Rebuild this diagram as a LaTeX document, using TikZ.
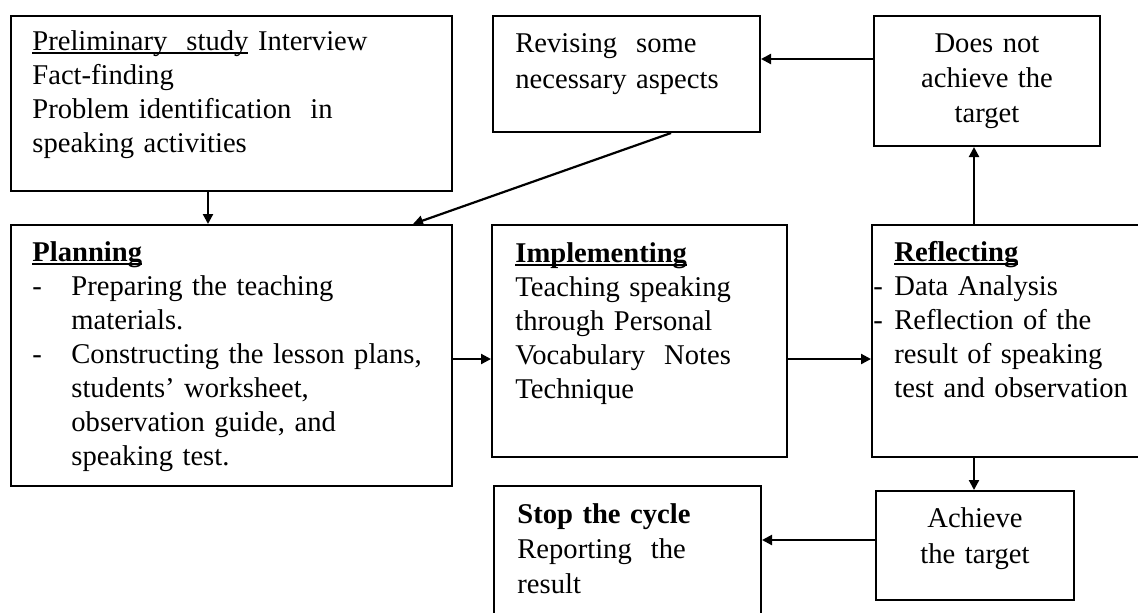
\documentclass[tikz,border=0pt]{standalone}
\usepackage{fontspec}
\setmainfont{Liberation Serif}
\usetikzlibrary{arrows.meta,fit}
\newcommand\myul[1]{\setbox0\hbox{#1}\rlap{\rule[-1.9pt]{\wd0}{0.8pt}}#1}
\begin{document}
\begin{tikzpicture}[x=0.5pt,y=-0.5pt,
  box/.style={draw,line width=1pt,inner sep=0pt},
  txt/.style={inner sep=0pt,anchor=base west,align=left},
  ctxt/.style={inner sep=0pt,anchor=base,align=center},
  arr/.style={line width=1.1pt,-{Triangle[length=5pt,width=5pt]}}]
\useasboundingbox (0,0) rectangle (1138,612);
\fill[white] (0,0) rectangle (1138,612);
\clip (0,0) rectangle (1138,612);
% alignment coordinates
\coordinate (c208) at (208,0);
\coordinate (c671) at (671,0);
\coordinate (c413) at (413,0);
\coordinate (c974) at (974,0);
\coordinate (c59) at (0,59);
\coordinate (c359) at (0,359);
\coordinate (c540) at (0,540);
% boxes
\node[box,fit={(11,16) (452,191)}] (pre) {};
\node[box,fit={(11,225) (452,486)}] (plan) {};
\node[box,fit={(493,16) (760,132)}] (rev) {};
\node[box,fit={(874,16) (1100,146)}] (dna) {};
\node[box,fit={(492,225) (787,457)}] (impl) {};
\node[box,fit={(872,225) (1150,457)}] (refl) {};
\node[box,fit={(876,491) (1074,600)}] (ach) {};
\node[box,fit={(494,486) (761,625)}] (stop) {};
% texts
\node[txt,text width=215pt,font=\fontsize{14.3}{17}\selectfont] (tpre) at (32,50)
  {\myul{Preliminary\ \ study} Interview\\Fact-finding\\Problem identification\ \ in\\speaking activities};
\node[txt,text width=215pt,font=\fontsize{14.3}{17}\selectfont] (tplan) at (32,261)
  {\myul{\textbf{Planning}}\\
   \makebox[19.5pt][l]{-}Preparing the teaching\\
   \hspace*{19.5pt}materials.\\
   \makebox[19.5pt][l]{-}Constructing the lesson plans,\\
   \hspace*{19.5pt}students’ worksheet,\\
   \hspace*{19.5pt}observation guide, and\\
   \hspace*{19.5pt}speaking test.};
\node[txt,text width=130pt,font=\fontsize{14.3}{18}\selectfont] (trev) at (515,52)
  {Revising\ \ some\\necessary aspects};
\node[ctxt,text width=110pt,font=\fontsize{14.3}{17.5}\selectfont] (tdna) at (987,52)
  {Does not\\achieve the\\target};
\node[txt,text width=135pt,font=\fontsize{14.3}{17}\selectfont] (timpl) at (515,262)
  {\myul{\textbf{Implementing}}\\Teaching speaking\\through Personal\\Vocabulary\ \ Notes\\Technique};
\node[txt,text width=135pt,font=\fontsize{14.3}{17}\selectfont] (trefl) at (873,261)
  {\hspace*{10.5pt}\myul{\textbf{Reflecting}}\\
   \makebox[10.5pt][l]{-}Data Analysis\\
   \makebox[10.5pt][l]{-}Reflection of the\\
   \hspace*{10.5pt}result of speaking\\
   \hspace*{10.5pt}test and observation};
\node[ctxt,text width=95pt,font=\fontsize{14.3}{18}\selectfont] (tach) at (975,527)
  {Achieve\\the target};
\node[txt,text width=125pt,font=\fontsize{14.3}{17.5}\selectfont] (tstop) at (517,523)
  {\textbf{Stop the cycle}\\Reporting\ \ the\\result};
% connectors
\draw[arr] (pre.south -| c208) -- (plan.north -| c208);
\draw[arr] (rev.south -| c671) -- (plan.north -| c413);
\draw[arr] (dna.west |- c59) -- (rev.east |- c59);
\draw[arr] (refl.north -| c974) -- (dna.south -| c974);
\draw[arr] (plan.east |- c359) -- (impl.west |- c359);
\draw[arr] (impl.east |- c359) -- (refl.west |- c359);
\draw[arr] (refl.south -| c974) -- (ach.north -| c974);
\draw[arr] (ach.west |- c540) -- (stop.east |- c540);
\end{tikzpicture}
\end{document}
